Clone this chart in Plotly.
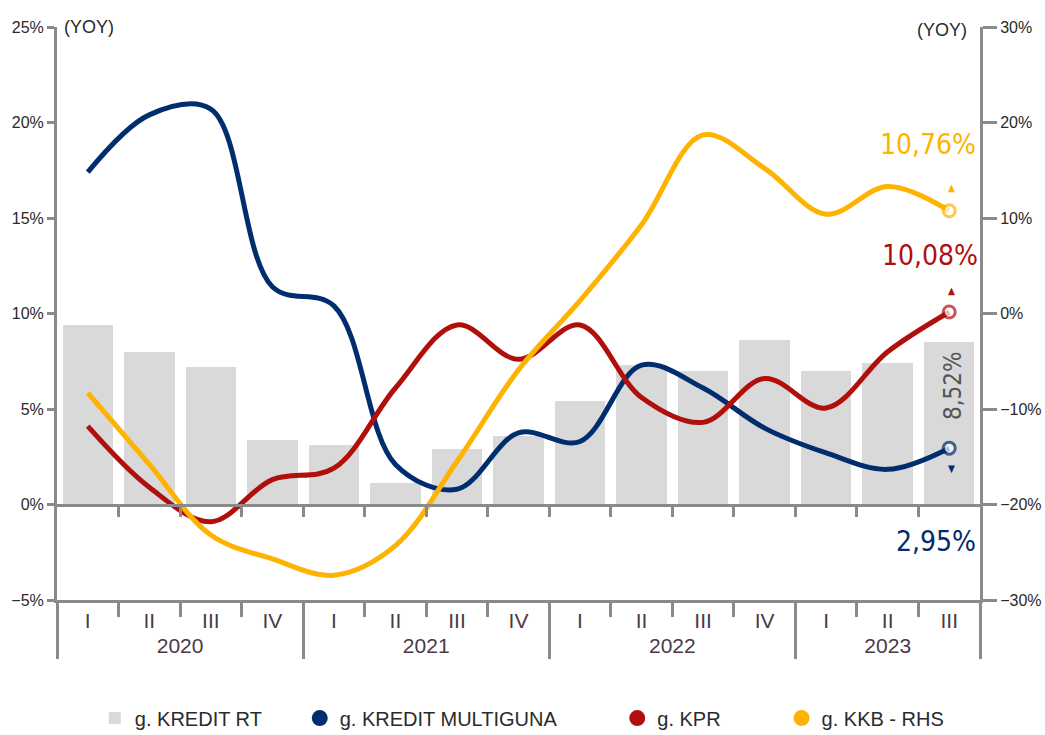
import plotly.graph_objects as go

# Quarterly growth data (% YoY)
years = ["2020"] * 4 + ["2021"] * 4 + ["2022"] * 4 + ["2023"] * 3
quarters = ["I", "II", "III", "IV"] * 3 + ["I", "II", "III"]

kredit_rt = [9.4, 8.0, 7.2, 3.4, 3.1, 1.1, 2.9, 3.6, 5.4, 7.3, 7.0, 8.6, 7.0, 7.4, 8.52]
multiguna = [17.4, 20.4, 20.7, 11.4, 10.4, 2.1, 0.8, 3.75, 3.3, 7.3, 6.1, 4.0, 2.7, 1.84, 2.95]
kpr = [4.1, 0.9, -0.9, 1.3, 1.9, 6.1, 9.4, 7.6, 9.4, 5.6, 4.3, 6.6, 5.05, 8.0, 10.08]
kkb = [-8.3, -15.8, -23.2, -25.7, -27.4, -24.3, -15.5, -5.9, 1.35, 9.3, 18.7, 15.2, 10.4, 13.3, 10.76]

series_names = ["g. KREDIT RT", "g. KREDIT MULTIGUNA", "g. KPR", "g. KKB - RHS"]

GRAY_BAR = "#d9d9d9"
NAVY = "#002d6e"
RED = "#b00f0c"
ORANGE = "#fdb300"
AXIS = "#8a8a8a"
TXT = "#2a2a2a"
FONT = "Liberation Sans"
BIG = "DejaVu Sans Condensed, Liberation Sans"

x_mc = [years, quarters]
n = len(quarters)
last = n - 1


def fmt(v):
    return f"{v:.2f}".replace(".", ",") + "%"


def end_marker(color):
    sizes = [0] * last + [12]
    widths = [0] * last + [3]
    return dict(size=sizes, color="white", line=dict(color=color, width=widths))


fig = go.Figure()

fig.add_trace(go.Bar(
    x=x_mc, y=kredit_rt, name=series_names[0], marker=dict(color=GRAY_BAR, line=dict(width=0)),
    width=0.82, legend="legend", showlegend=True,
))

fig.add_trace(go.Scatter(
    x=x_mc, y=multiguna, mode="lines+markers", line=dict(color=NAVY, width=5, shape="spline", smoothing=1.0),
    marker=end_marker(NAVY), showlegend=False,
))
fig.add_trace(go.Scatter(
    x=x_mc, y=kpr, mode="lines+markers", line=dict(color=RED, width=5, shape="spline", smoothing=1.0),
    marker=end_marker(RED), showlegend=False,
))
fig.add_trace(go.Scatter(
    x=x_mc, y=kkb, mode="lines+markers", line=dict(color=ORANGE, width=5, shape="spline", smoothing=1.0),
    marker=end_marker(ORANGE), yaxis="y2", showlegend=False,
))

# Legend entries shown as round markers
for name, color, leg in [(series_names[1], NAVY, "legend2"),
                         (series_names[2], RED, "legend3"),
                         (series_names[3], ORANGE, "legend4")]:
    fig.add_trace(go.Scatter(
        x=[None], y=[None], mode="markers", name=name, xaxis="x2",
        marker=dict(color=color, size=16, symbol="circle"), legend=leg, showlegend=True,
    ))

# Helper trace so the zero-line category axis is rendered
fig.add_trace(go.Scatter(x=[0, n - 1], y=[0, 0], mode="none", xaxis="x2", showlegend=False, hoverinfo="skip"))

# Value labels at the final quarter
annos = [
    dict(x=last, y=kkb[-1], yref="y2", text=fmt(kkb[-1]), font=dict(color=ORANGE, size=28),
         xanchor="right", yshift=66, xshift=29),
    dict(x=last, y=kkb[-1], yref="y2", text="▲", font=dict(color=ORANGE, size=10), yshift=23, xshift=2),
    dict(x=last, y=kpr[-1], yref="y", text=fmt(kpr[-1]), font=dict(color=RED, size=28),
         xanchor="right", yshift=56, xshift=31),
    dict(x=last, y=kpr[-1], yref="y", text="▲", font=dict(color=RED, size=10), yshift=21, xshift=2),
    dict(x=last, y=multiguna[-1], yref="y", text=fmt(multiguna[-1]), font=dict(color=NAVY, size=28),
         xanchor="right", yshift=-93, xshift=29),
    dict(x=last, y=multiguna[-1], yref="y", text="▼", font=dict(color=NAVY, size=10), yshift=-20, xshift=2),
    dict(x=last, y=kredit_rt[-1], yref="y", text=fmt(kredit_rt[-1]), font=dict(color="#555555", size=24),
         textangle=-90, yshift=-44, xshift=4),
]
for a in annos:
    a.update(xref="x2", showarrow=False)
    a["font"]["family"] = BIG
    fig.add_annotation(**a)

fig.add_annotation(x=0, xref="paper", xanchor="left", xshift=5, y=1, yref="paper", yanchor="middle",
                   text="(YOY)", showarrow=False, font=dict(family=FONT, size=18, color=TXT))
fig.add_annotation(x=1, xref="paper", xanchor="right", xshift=-11, y=1, yref="paper", yanchor="middle",
                   yshift=-3, text="(YOY)", showarrow=False, font=dict(family=FONT, size=18, color=TXT))

leg_common = dict(orientation="h", yanchor="middle", y=-0.206, xanchor="left",
                  font=dict(family=FONT, size=20, color=TXT), bgcolor="rgba(0,0,0,0)", itemwidth=30)

fig.update_layout(
    width=1045, height=735,
    margin=dict(l=57, r=65, t=27, b=135, autoexpand=False),
    paper_bgcolor="white", plot_bgcolor="white",
    bargap=0,
    font=dict(family=FONT, color=TXT),
    xaxis=dict(
        type="multicategory", range=[-0.5, n - 0.5], showline=True, linecolor=AXIS, linewidth=3,
        ticks="outside", tickson="boundaries", ticklen=14, tickwidth=3, tickcolor=AXIS,
        showdividers=True, dividercolor=AXIS, dividerwidth=3,
        tickfont=dict(family=FONT, size=21, color="#4a3a48"),
        showgrid=False, zeroline=False,
    ),
    xaxis2=dict(
        overlaying="x", anchor="free", position=5 / 30, range=[-0.5, n - 0.5],
        showline=True, linecolor=AXIS, linewidth=3,
        tickmode="array", tickvals=[i + 0.5 for i in range(n - 1)],
        ticks="outside", ticklen=10, tickwidth=3, tickcolor=AXIS,
        showticklabels=False, showgrid=False, zeroline=False,
    ),
    yaxis=dict(
        range=[-5, 25], dtick=5, ticksuffix="%", showline=True, linecolor=AXIS, linewidth=3,
        ticks="outside", ticklen=7, tickwidth=3, tickcolor=AXIS,
        tickfont=dict(family=FONT, size=16, color=TXT), showgrid=False, zeroline=False,
    ),
    yaxis2=dict(
        overlaying="y", side="right", range=[-30, 30], dtick=10, ticksuffix="%",
        showline=True, linecolor=AXIS, linewidth=3,
        ticks="outside", ticklen=14, tickwidth=3, tickcolor=AXIS,
        tickfont=dict(family=FONT, size=16, color=TXT), showgrid=False, zeroline=False,
    ),
    legend=dict(leg_common, x=0.041),
    legend2=dict(leg_common, x=0.263),
    legend3=dict(leg_common, x=0.607),
    legend4=dict(leg_common, x=0.785),
    annotations=list(fig.layout.annotations),
)

fig.write_html("out.html")
